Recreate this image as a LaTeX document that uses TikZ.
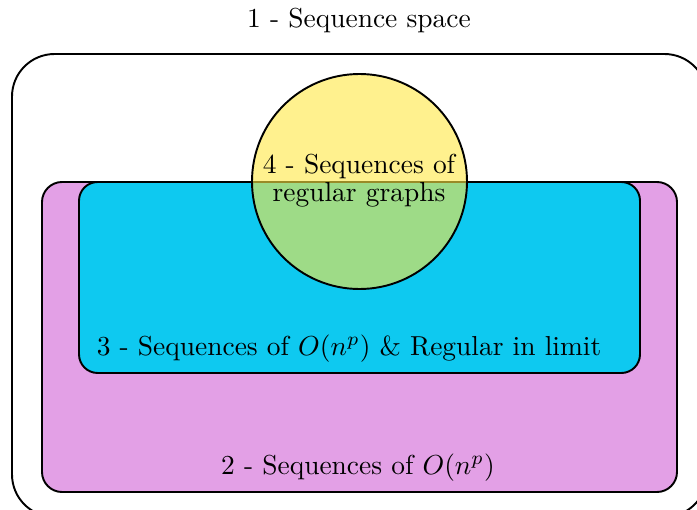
\documentclass[tikz,border=0pt]{standalone}
\begin{document}
% Units are image pixels, y axis pointing down
\begin{tikzpicture}[x=0.0128cm, y=-0.0128cm, line width=0.7pt,
  region/.style={draw=black, rounded corners=#1},
  label/.style={font=\normalsize, text=black, inner sep=0pt}]
\definecolor{setpink}{RGB}{227,160,230}
\definecolor{setcyan}{RGB}{14,201,240}
\definecolor{setyellow}{RGB}{255,232,66}
\useasboundingbox (0,0) rectangle (697,510);

% 1 - whole sequence space
\draw[region=15.5pt] (12,54) rectangle (707,517);
\node[label] (t1) at (359,20) {1 - Sequence space};

% 2 - polynomially bounded sequences
\filldraw[region=7.3pt, fill=setpink] (42,182) rectangle (677,492);
\node[label] (t2) at (358,468) {2 - Sequences of $O(n^p)$};

% 3 - polynomially bounded and regular in the limit
\filldraw[region=6.8pt, fill=setcyan] (79,182) rectangle (640,373);
\node[label] (t3) at (349,349) {3 - Sequences of $O(n^p)$ \& Regular in limit};

% 4 - regular graphs
\draw[fill=setyellow, fill opacity=0.6] (359.5,181.5) circle (107.5);
\node[label, align=center] (t4) at (359,181) {4 - Sequences of\\[-1.8pt]regular graphs};
\end{tikzpicture}
\end{document}
